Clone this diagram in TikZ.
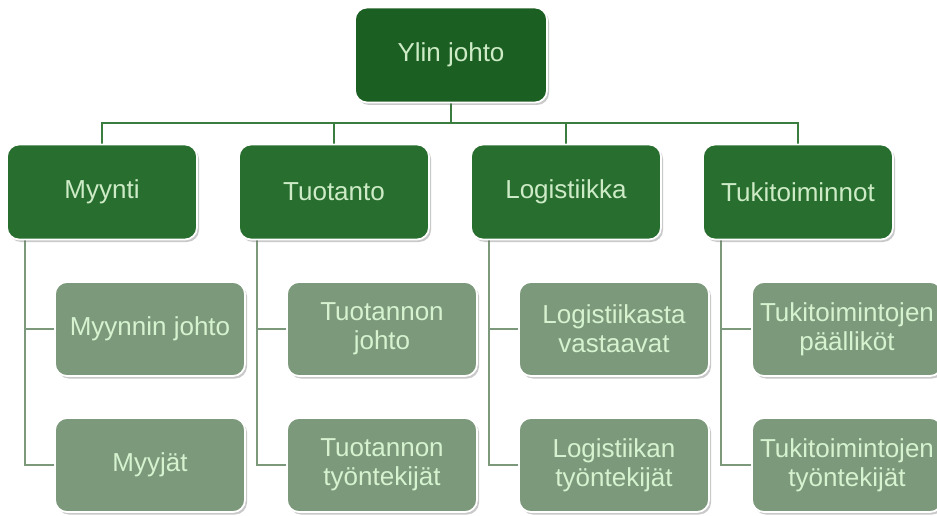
\documentclass[tikz,border=0pt]{standalone}
\usepackage{fontspec}
\setmainfont{Liberation Sans}
\usetikzlibrary{shadows,calc,backgrounds}
\definecolor{topgreen}{HTML}{1C5F22}
\definecolor{midgreen}{HTML}{286E2F}
\definecolor{lowgreen}{HTML}{7C997B}
\definecolor{txtgreen}{HTML}{CDEBC6}
\definecolor{txtlow}{HTML}{D6F2CF}
\definecolor{linegreen}{HTML}{3B7D3E}
\definecolor{linelow}{HTML}{7C997B}
\tikzset{
  box/.style={rounded corners=12pt, draw=white, line width=1.8pt, align=center,
    inner sep=0pt, font=\fontsize{26}{29}\selectfont,
    drop shadow={shadow xshift=2pt, shadow yshift=-2.5pt, opacity=0.35, fill=black!60}},
  topbox/.style={box, fill=topgreen, text=txtgreen, minimum width=192pt, minimum height=95pt},
  midbox/.style={box, fill=midgreen, text=txtgreen, minimum width=190pt, minimum height=95pt},
  lowbox/.style={box, fill=lowgreen, text=txtlow, minimum width=190pt, minimum height=94pt},
  upline/.style={draw=linegreen, line width=1.6pt},
  lowline/.style={draw=linelow, line width=1.6pt}
}
\begin{document}
\begin{tikzpicture}[x=1pt,y=-1pt]
\useasboundingbox (0,0) rectangle (937,516);
\clip (0,0) rectangle (937,516);
\coordinate (bus) at (0,123);
\node[topbox] (top) at (451,55) {Ylin johto};
\node[midbox] (m1) at (102,192) {Myynti};
\node[midbox] (m2) at (334,192) {Tuotanto};
\node[midbox] (m3) at (566,192) {Logistiikka};
\node[midbox] (m4) at (798,192) {Tukitoiminnot};
\node[lowbox] (a1) at (150,329) {Myynnin johto};
\node[lowbox] (b1) at (150,465) {Myyjät};
\node[lowbox] (a2) at (382,329) {Tuotannon\\johto};
\node[lowbox] (b2) at (382,465) {Tuotannon\\työntekijät};
\node[lowbox] (a3) at (614,329) {Logistiikasta\\vastaavat};
\node[lowbox] (b3) at (614,465) {Logistiikan\\työntekijät};
\node[lowbox] (a4) at (847,329) {Tukitoimintojen\\päälliköt};
\node[lowbox] (b4) at (847,465) {Tukitoimintojen\\työntekijät};
\begin{pgfonlayer}{background}
  \fill[white] (0,0) rectangle (937,516);
  \draw[upline] (top.south) -- (top.south |- bus);
  \foreach \m in {m1,m2,m3,m4} {
    \draw[upline] (top.south |- bus) -| (\m.north);
  }
  \foreach \i in {1,2,3,4} {
    \coordinate (v\i) at ($(m\i.south west)!0.1!(m\i.south east)$);
    \draw[lowline] (v\i) |- (b\i.west);
    \draw[lowline] (v\i |- a\i.west) -- (a\i.west);
  }
\end{pgfonlayer}
\end{tikzpicture}
\end{document}
